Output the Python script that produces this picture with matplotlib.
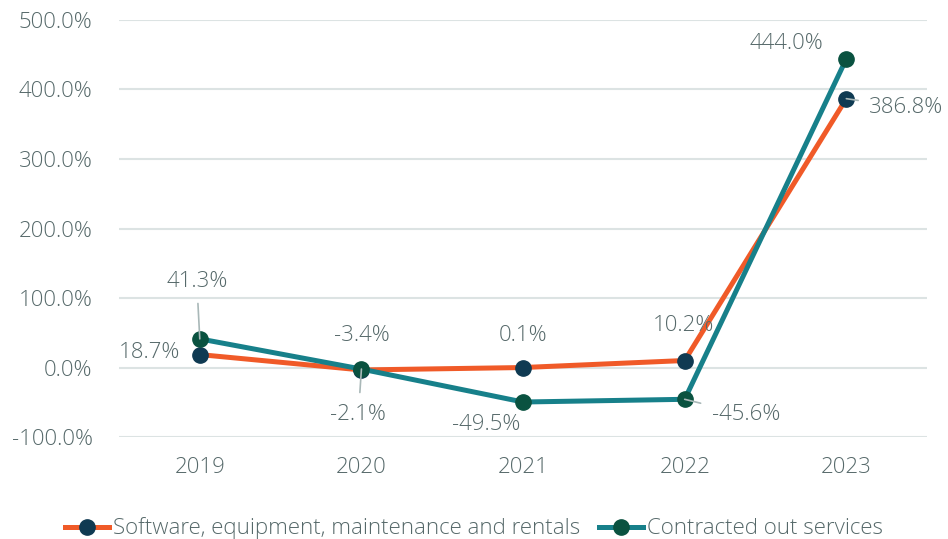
import matplotlib.pyplot as plt
from matplotlib.ticker import FuncFormatter

years = ["2019", "2020", "2021", "2022", "2023"]
software = [18.7, -3.4, 0.1, 10.2, 386.8]
contracted = [41.3, -2.1, -49.5, -45.6, 444.0]
yticks = [-100, 0, 100, 200, 300, 400, 500]

plt.rcParams['font.family'] = ['Open Sans', 'DejaVu Sans']
plt.rcParams['font.weight'] = 'light'

orange = "#F05A28"
teal = "#17808A"
navy = "#0F3A52"
green = "#0A5240"
txt = "#56696A"
grid = "#DCE3E3"
leader = "#A9B8B8"
fs = 16

fig = plt.figure(figsize=(9.48, 5.39), dpi=100)
ax = fig.add_axes([0.1255, 0.189, 0.8525, 0.774])

x = list(range(len(years)))
ax.plot(x, software, color=orange, lw=3.6, marker="o", ms=11,
        mfc=navy, mec=navy, label="Software, equipment, maintenance and rentals", zorder=3)
ax.plot(x, contracted, color=teal, lw=3.6, marker="o", ms=11,
        mfc=green, mec=green, label="Contracted out services", zorder=4)

ax.set_xlim(-0.5, 4.5)
ax.set_ylim(-100, 500)
ax.set_yticks(yticks)
ax.yaxis.set_major_formatter(FuncFormatter(lambda v, p: f"{v:.1f}%"))
ax.set_xticks(x)
ax.set_xticklabels(years)
ax.grid(axis="y", color=grid, lw=1.5)
ax.set_axisbelow(True)
for s in ax.spines.values():
    s.set_visible(False)
ax.tick_params(length=0, labelsize=fs, colors=txt)
ax.tick_params(axis="y", pad=19)
ax.tick_params(axis="x", pad=14)

# data labels: (series values, index, offset px, leader)
labels = [
    (contracted, 0, (-3, 57), True),
    (software, 0, (-50, 2), False),
    (software, 1, (0, 34), False),
    (contracted, 1, (-3, -45), True),
    (software, 2, (0, 32), False),
    (contracted, 2, (-37, -22), False),
    (software, 3, (-1, 35), False),
    (contracted, 3, (61, -15), True),
    (contracted, 4, (-60, 15), False),
    (software, 4, (60, -9), True),
]
for vals, i, off, lead in labels:
    kw = {}
    if lead:
        kw["arrowprops"] = dict(arrowstyle="-", color=leader, lw=1.2,
                                shrinkA=6, shrinkB=0)
    ax.annotate(f"{vals[i]:.1f}%", (i, vals[i]), xytext=off,
                textcoords="offset pixels", ha="center", va="center",
                fontsize=fs, color=txt, zorder=5, **kw)

leg = fig.legend(loc="lower center", bbox_to_anchor=(0.5, -0.038), ncol=2,
                 frameon=False, fontsize=fs, handlelength=2.0,
                 handletextpad=0.2, columnspacing=0.8)
for t in leg.get_texts():
    t.set_color(txt)

fig.savefig("out.png", dpi=100)
